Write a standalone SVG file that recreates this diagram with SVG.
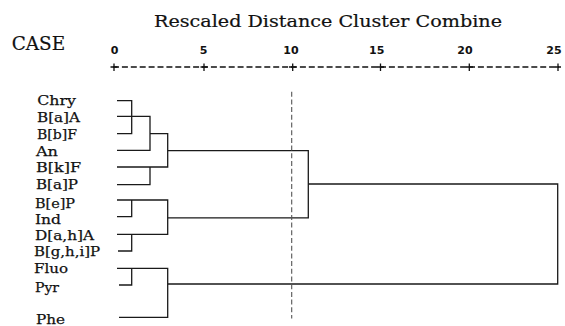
<svg xmlns="http://www.w3.org/2000/svg" width="565" height="326" viewBox="0 0 565 326">
<style>
.lbl{font-family:"DejaVu Serif","Liberation Serif",serif;font-size:13.5px;fill:#111;stroke:#111;stroke-width:0.25}
.ttl{font-family:"DejaVu Serif","Liberation Serif",serif;fill:#111;stroke:#111;stroke-width:0.2}
.num{font-family:"DejaVu Sans","Liberation Sans",sans-serif;font-size:11px;font-weight:bold;fill:#111;text-anchor:middle}
.ln{fill:none;stroke:#1a1a1a;stroke-width:1.3}
</style>
<rect width="565" height="326" fill="#fff"/>
<g id="titles">
<text class="ttl" x="154" y="27" font-size="16.8" textLength="348" lengthAdjust="spacingAndGlyphs">Rescaled Distance Cluster Combine</text>
<text class="ttl" x="11.7" y="50" font-size="18" textLength="53.5" lengthAdjust="spacingAndGlyphs">CASE</text>
</g>
<g id="axis">
<text class="num" x="114.5" y="53.5">0</text>
<text class="num" x="203.5" y="53.5">5</text>
<text class="num" x="291" y="53.5">10</text>
<text class="num" x="376.7" y="53.5">15</text>
<text class="num" x="465" y="53.5">20</text>
<text class="num" x="554" y="53.5">25</text>
<line x1="113" y1="67" x2="559" y2="67" stroke="#111" stroke-width="1.3" stroke-dasharray="6 2.9"/>
<path d="M114 63.5V71M204 63.5V71M292.7 63.5V71M380.5 63.5V71M469.3 63.5V71M558 63.5V71M110.5 67H117.5M200.5 67H207.5M289 67H296M377 67H384M466 67H473M555 67H561" stroke="#111" stroke-width="1.3" fill="none"/>
</g>
<g id="nodes">
<g id="n-chry"><text class="lbl" x="37.3" y="105" textLength="38.7" lengthAdjust="spacingAndGlyphs">Chry</text></g>
<g id="n-baa"><text class="lbl" x="37" y="122" textLength="43" lengthAdjust="spacingAndGlyphs">B[a]A</text></g>
<g id="n-bbf"><text class="lbl" x="37" y="139" textLength="40" lengthAdjust="spacingAndGlyphs">B[b]F</text></g>
<g id="n-an"><text class="lbl" x="36" y="155.5" textLength="22" lengthAdjust="spacingAndGlyphs">An</text></g>
<g id="n-bkf"><text class="lbl" x="36" y="172" textLength="45" lengthAdjust="spacingAndGlyphs">B[k]F</text></g>
<g id="n-bap"><text class="lbl" x="36" y="189" textLength="42" lengthAdjust="spacingAndGlyphs">B[a]P</text></g>
<g id="n-bep"><text class="lbl" x="35" y="208.3" textLength="40" lengthAdjust="spacingAndGlyphs">B[e]P</text></g>
<g id="n-ind"><text class="lbl" x="35" y="223.5" textLength="26" lengthAdjust="spacingAndGlyphs">Ind</text></g>
<g id="n-daha"><text class="lbl" x="35" y="240" textLength="59" lengthAdjust="spacingAndGlyphs">D[a,h]A</text></g>
<g id="n-bghip"><text class="lbl" x="34" y="256" textLength="66" lengthAdjust="spacingAndGlyphs">B[g,h,i]P</text></g>
<g id="n-fluo"><text class="lbl" x="34" y="273.3" textLength="34" lengthAdjust="spacingAndGlyphs">Fluo</text></g>
<g id="n-pyr"><text class="lbl" x="35" y="292" textLength="24" lengthAdjust="spacingAndGlyphs">Pyr</text></g>
<g id="n-phe"><text class="lbl" x="36" y="324.3" textLength="29" lengthAdjust="spacingAndGlyphs">Phe</text></g>
</g>
<g id="connectors">
<path class="ln" d="M117 100.7H131.7V133.7H117M117 116.3H150V150.3H117M150 133.7H167.7V167H117M150 167V184.7H117M167.7 150.7H308.3V217.8H167.7"/>
<path class="ln" d="M117 200H167.7V234.3H117M131.7 200V216.7H117M131.7 234.3V251H118"/>
<path class="ln" d="M117 268.3H167.7V317.3H119M131.7 268.3V285H119M167.7 284H557.7V184H308.3"/>
<line x1="291.7" y1="91.7" x2="291.7" y2="318.5" stroke="#555" stroke-width="1.1" stroke-dasharray="5 2.7"/>
</g>
</svg>
